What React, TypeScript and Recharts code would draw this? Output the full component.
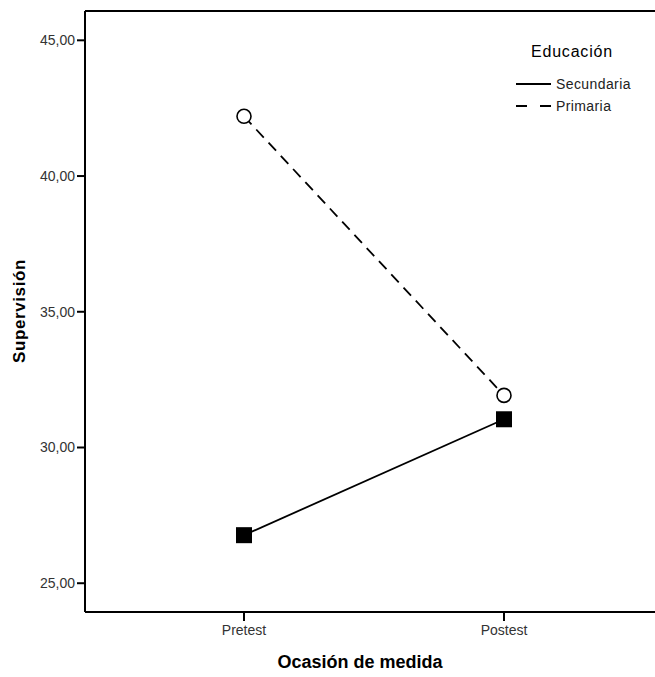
import React from 'react';
import { LineChart, Line, XAxis, YAxis, ReferenceLine } from 'recharts';

// Profile plot data (estimated marginal means)
const categories = ['Pretest', 'Postest'];
const secundaria = [26.77, 31.04];
const primaria = [42.2, 31.92];
const yTicks = [25, 30, 35, 40, 45];
const yDomain = [23.94, 46.08];

const FONT = 'Arial, "Liberation Sans", sans-serif';

const data = categories.map((name, i) => ({
  name,
  Secundaria: secundaria[i],
  Primaria: primaria[i],
}));

const SquareDot = (props: any) => {
  const { cx, cy } = props;
  if (cx == null || cy == null) return null;
  return <rect x={cx - 8} y={cy - 8} width={16} height={16} fill="#000" />;
};

const CircleDot = (props: any) => {
  const { cx, cy } = props;
  if (cx == null || cy == null) return null;
  return <circle cx={cx} cy={cy} r={7} fill="#fff" stroke="#000" strokeWidth={1.6} />;
};

const legendItems = [
  { label: 'Secundaria', dash: undefined },
  { label: 'Primaria', dash: '11 13' },
];

// Legend box like the SPSS one in the top right
const ChartLegend = () => (
  <div style={{ position: 'absolute', left: 516, top: 43, fontFamily: FONT }}>
    <div style={{ fontSize: 16, marginLeft: 15, marginBottom: 12, letterSpacing: 0.8, color: '#000' }}>
      Educación
    </div>
    {legendItems.map((item) => (
      <div
        key={item.label}
        style={{ display: 'flex', alignItems: 'center', height: 22, fontSize: 14, color: '#222', letterSpacing: 0.4 }}
      >
        <svg width={40} height={4}>
          <line x1={0} y1={2} x2={35} y2={2} stroke="#000" strokeWidth={2} strokeDasharray={item.dash} />
        </svg>
        {item.label}
      </div>
    ))}
  </div>
);

const App: React.FC = () => {
  return (
    <div style={{ position: 'absolute', left: 0, top: 0, width: 655, height: 677, overflow: 'hidden', background: '#fff' }}>
      <LineChart
        width={680}
        height={677}
        data={data}
        margin={{ top: 11, right: 17, bottom: 0, left: 0 }}
        style={{ fontFamily: FONT }}
      >
        <XAxis
          dataKey="name"
          height={65}
          padding={{ left: 159, right: 159 }}
          axisLine={{ stroke: '#000', strokeWidth: 2 }}
          tickLine={{ stroke: '#000', strokeWidth: 2 }}
          tickSize={9}
          tickMargin={4}
          tick={{ fill: '#333', fontSize: 14 }}
        />
        <YAxis
          width={85}
          type="number"
          domain={yDomain}
          ticks={yTicks}
          allowDataOverflow
          interval={0}
          tickFormatter={(v: number) => v.toFixed(2).replace('.', ',')}
          axisLine={{ stroke: '#000', strokeWidth: 2 }}
          tickLine={{ stroke: '#000', strokeWidth: 2 }}
          tickSize={8}
          tickMargin={2}
          tick={{ fill: '#333', fontSize: 14 }}
        />
        <ReferenceLine y={yDomain[1]} stroke="#000" strokeWidth={2} ifOverflow="visible" />
        <Line
          dataKey="Primaria"
          stroke="#000"
          strokeWidth={1.8}
          strokeDasharray="11 7"
          dot={<CircleDot />}
          activeDot={false}
          isAnimationActive={false}
        />
        <Line
          dataKey="Secundaria"
          stroke="#000"
          strokeWidth={1.8}
          dot={<SquareDot />}
          activeDot={false}
          isAnimationActive={false}
        />
      </LineChart>
      <ChartLegend />
      <div
        style={{
          position: 'absolute',
          left: 20,
          top: 311,
          transform: 'translate(-50%, -50%) rotate(-90deg)',
          fontFamily: FONT,
          fontWeight: 'bold',
          fontSize: 17,
          letterSpacing: 0.6,
          whiteSpace: 'nowrap',
        }}
      >
        Supervisión
      </div>
      <div
        style={{
          position: 'absolute',
          left: 360,
          top: 662,
          transform: 'translate(-50%, -50%)',
          fontFamily: FONT,
          fontWeight: 'bold',
          fontSize: 18,
          whiteSpace: 'nowrap',
        }}
      >
        Ocasión de medida
      </div>
    </div>
  );
};

export default App;
